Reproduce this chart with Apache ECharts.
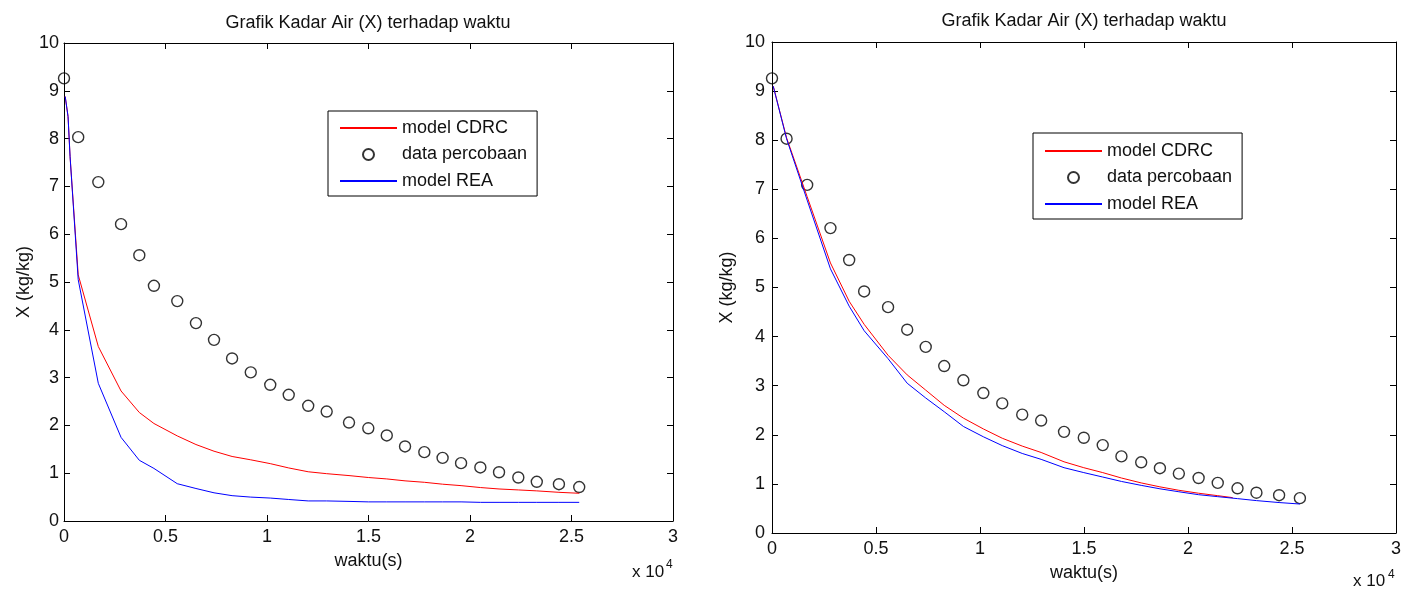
<!DOCTYPE html>
<html>
<head>
<meta charset="utf-8">
<script src="https://cdn.jsdelivr.net/npm/echarts@6/dist/echarts.min.js"></script>
<style>
  html, body { margin: 0; padding: 0; background: #fff; }
  #chart { width: 1413px; height: 590px; }
</style>
</head>
<body>
<div id="chart"></div>
<script>
// Experimental drying data (time in seconds, moisture content X in kg/kg)
var waktuData = [0, 700, 1690, 2810, 3710, 4430, 5580, 6500, 7390, 8280, 9200, 10160, 11070, 12030,
  12940, 14040, 14990, 15900, 16800, 17750, 18650, 19560, 20510, 21430, 22380, 23290, 24380, 25380];
var kadarData = [9.26, 8.03, 7.09, 6.21, 5.56, 4.92, 4.60, 4.14, 3.79, 3.40, 3.11, 2.85, 2.64, 2.41,
  2.29, 2.06, 1.94, 1.79, 1.56, 1.44, 1.32, 1.21, 1.12, 1.02, 0.91, 0.82, 0.77, 0.71];

// First figure: model curves before fitting
var waktuModelA = [60, 200, 300, 700, 1690, 2810, 3710, 4430, 5580, 6500, 7390, 8280, 9200, 10160, 11070,
  12030, 12940, 14040, 14990, 15900, 16800, 17750, 18650, 19560, 20510, 21430, 22380, 23290, 24380, 25380];
var cdrcA = [8.88, 8.46, 7.62, 5.15, 3.65, 2.72, 2.27, 2.04, 1.78, 1.60, 1.46, 1.35, 1.28, 1.20, 1.11,
  1.03, 0.99, 0.95, 0.91, 0.88, 0.84, 0.81, 0.77, 0.74, 0.70, 0.67, 0.65, 0.63, 0.60, 0.58];
var reaA = [8.88, 8.46, 7.62, 5.05, 2.88, 1.75, 1.27, 1.10, 0.78, 0.68, 0.59, 0.53, 0.50, 0.48, 0.45,
  0.42, 0.42, 0.41, 0.40, 0.40, 0.40, 0.40, 0.40, 0.40, 0.39, 0.39, 0.39, 0.39, 0.39, 0.39];

// Second figure: fitted model curves
var waktuCdrcB = [60, 700, 1690, 2810, 3710, 4430, 5580, 6500, 7390, 8280, 9200, 10160, 11070, 12030,
  12940, 14040, 14990, 15900, 16800, 17750, 18650, 19560, 20510, 21430, 22150];
var cdrcB = [9.10, 8.05, 6.85, 5.50, 4.72, 4.25, 3.62, 3.22, 2.91, 2.60, 2.34, 2.12, 1.93, 1.77,
  1.64, 1.45, 1.33, 1.23, 1.12, 1.02, 0.94, 0.87, 0.81, 0.76, 0.72];
var waktuReaB = [60, 700, 1690, 2810, 3710, 4430, 5580, 6500, 7390, 8280, 9200, 10160, 11070, 12030,
  12940, 14040, 14990, 15900, 16800, 17750, 18650, 19560, 20510, 21430, 22380, 23290, 24380, 25380];
var reaB = [9.10, 8.03, 6.78, 5.38, 4.62, 4.12, 3.55, 3.05, 2.75, 2.47, 2.17, 1.96, 1.78, 1.62,
  1.50, 1.33, 1.23, 1.14, 1.05, 0.97, 0.90, 0.84, 0.78, 0.74, 0.70, 0.66, 0.62, 0.59];

var judul = 'Grafik Kadar Air (X) terhadap waktu';
var namaSeri = ['model CDRC', 'data percobaan', 'model REA'];
var labelX = 'waktu(s)';
var labelY = 'X (kg/kg)';

var FONT = '"Liberation Sans", Arial, sans-serif';
var INK = '#111';

function pairs(xs, ys) {
  return xs.map(function (x, i) { return [x, ys[i]]; });
}

function xAxisMain(grid, gap, margin) {
  return {
    type: 'value', gridIndex: grid, position: 'bottom', min: 0, max: 30000, interval: 5000,
    name: labelX, nameLocation: 'middle', nameGap: gap,
    nameTextStyle: { fontFamily: FONT, fontSize: 18, color: INK },
    axisLine: { show: true, onZero: false, lineStyle: { color: '#000', width: 1 } },
    axisTick: { show: true, inside: true, length: 6, lineStyle: { color: '#000' } },
    axisLabel: { margin: margin, fontFamily: FONT, fontSize: 18, color: INK,
      formatter: function (v) { return String(v / 10000); } },
    splitLine: { show: false }
  };
}
function xAxisTop(grid) {
  return {
    type: 'value', gridIndex: grid, position: 'top', min: 0, max: 30000, interval: 5000,
    axisLine: { show: true, onZero: false, lineStyle: { color: '#000', width: 1 } },
    axisTick: { show: true, inside: true, length: 6, lineStyle: { color: '#000' } },
    axisLabel: { show: false }, splitLine: { show: false }
  };
}
function yAxisMain(grid, gap, margin) {
  return {
    type: 'value', gridIndex: grid, position: 'left', min: 0, max: 10, interval: 1,
    name: labelY, nameLocation: 'middle', nameGap: gap, nameRotate: 90,
    nameTextStyle: { fontFamily: FONT, fontSize: 18, color: INK },
    axisLine: { show: true, onZero: false, lineStyle: { color: '#000', width: 1 } },
    axisTick: { show: true, inside: true, length: 6, lineStyle: { color: '#000' } },
    axisLabel: { margin: margin, fontFamily: FONT, fontSize: 18, color: INK },
    splitLine: { show: false }
  };
}
function yAxisRight(grid) {
  return {
    type: 'value', gridIndex: grid, position: 'right', min: 0, max: 10, interval: 1,
    axisLine: { show: true, onZero: false, lineStyle: { color: '#000', width: 1 } },
    axisTick: { show: true, inside: true, length: 6, lineStyle: { color: '#000' } },
    axisLabel: { show: false }, splitLine: { show: false }
  };
}

function lineSeries(name, axis, xs, ys, color) {
  return {
    name: name, type: 'line', xAxisIndex: axis, yAxisIndex: axis,
    data: pairs(xs, ys), symbol: 'none', smooth: false,
    lineStyle: { color: color, width: 1 }, itemStyle: { color: color },
    emphasis: { disabled: true }, silent: true
  };
}
function dotSeries(name, axis) {
  return {
    name: name, type: 'scatter', xAxisIndex: axis, yAxisIndex: axis,
    data: pairs(waktuData, kadarData), symbol: 'circle', symbolSize: 11,
    itemStyle: { color: 'rgba(255,255,255,0)', borderColor: '#000', borderWidth: 1.4 },
    emphasis: { disabled: true }, silent: true
  };
}
// Line entries show only the stroke, the data entry shows only the open circle
function legendBox(left, top, padTop) {
  return {
    data: [
      { name: namaSeri[0], itemStyle: { opacity: 0 } },
      { name: namaSeri[1] },
      { name: namaSeri[2], itemStyle: { opacity: 0 } }
    ],
    orient: 'vertical', left: left, top: top,
    padding: [padTop, 10, 6, 11], itemGap: 8.5, itemWidth: 57, itemHeight: 11,
    borderColor: '#000', borderWidth: 1, backgroundColor: '#fff',
    textStyle: { fontFamily: FONT, fontSize: 18, color: INK, lineHeight: 18 },
    selectedMode: false
  };
}

var chart = echarts.init(document.getElementById('chart'), null, { renderer: 'canvas' });
chart.setOption({
  animation: false,
  backgroundColor: '#fff',
  title: [
    { text: judul, left: 368, top: 14, textAlign: 'center', padding: 0,
      textStyle: { fontFamily: FONT, fontSize: 18, fontWeight: 'normal', color: INK } },
    { text: judul, left: 1084, top: 12, textAlign: 'center', padding: 0,
      textStyle: { fontFamily: FONT, fontSize: 18, fontWeight: 'normal', color: INK } }
  ],
  grid: [
    { left: 64, top: 43, width: 609, height: 478 },
    { left: 772, top: 42, width: 624, height: 491 }
  ],
  xAxis: [xAxisMain(0, 31, 7), xAxisMain(1, 31, 7), xAxisTop(0), xAxisTop(1)],
  yAxis: [yAxisMain(0, 31, 5), yAxisMain(1, 36, 7), yAxisRight(0), yAxisRight(1)],
  legend: [legendBox(328, 111, 8), legendBox(1033, 133, 9)],
  series: [
    lineSeries(namaSeri[0], 0, waktuModelA, cdrcA, '#ff0000'),
    dotSeries(namaSeri[1], 0),
    lineSeries(namaSeri[2], 0, waktuModelA, reaA, '#0000ff'),
    lineSeries(namaSeri[0], 1, waktuCdrcB, cdrcB, '#ff0000'),
    dotSeries(namaSeri[1], 1),
    lineSeries(namaSeri[2], 1, waktuReaB, reaB, '#0000ff')
  ],
  graphic: [
    { type: 'text', left: 632, top: 564, silent: true,
      style: { text: 'x 10', fontFamily: FONT, fontSize: 17, fill: INK } },
    { type: 'text', left: 666, top: 559, silent: true,
      style: { text: '4', fontFamily: FONT, fontSize: 12, fill: INK } },
    { type: 'text', left: 1353, top: 573, silent: true,
      style: { text: 'x 10', fontFamily: FONT, fontSize: 17, fill: INK } },
    { type: 'text', left: 1388, top: 569, silent: true,
      style: { text: '4', fontFamily: FONT, fontSize: 12, fill: INK } }
  ]
});
</script>
</body>
</html>
